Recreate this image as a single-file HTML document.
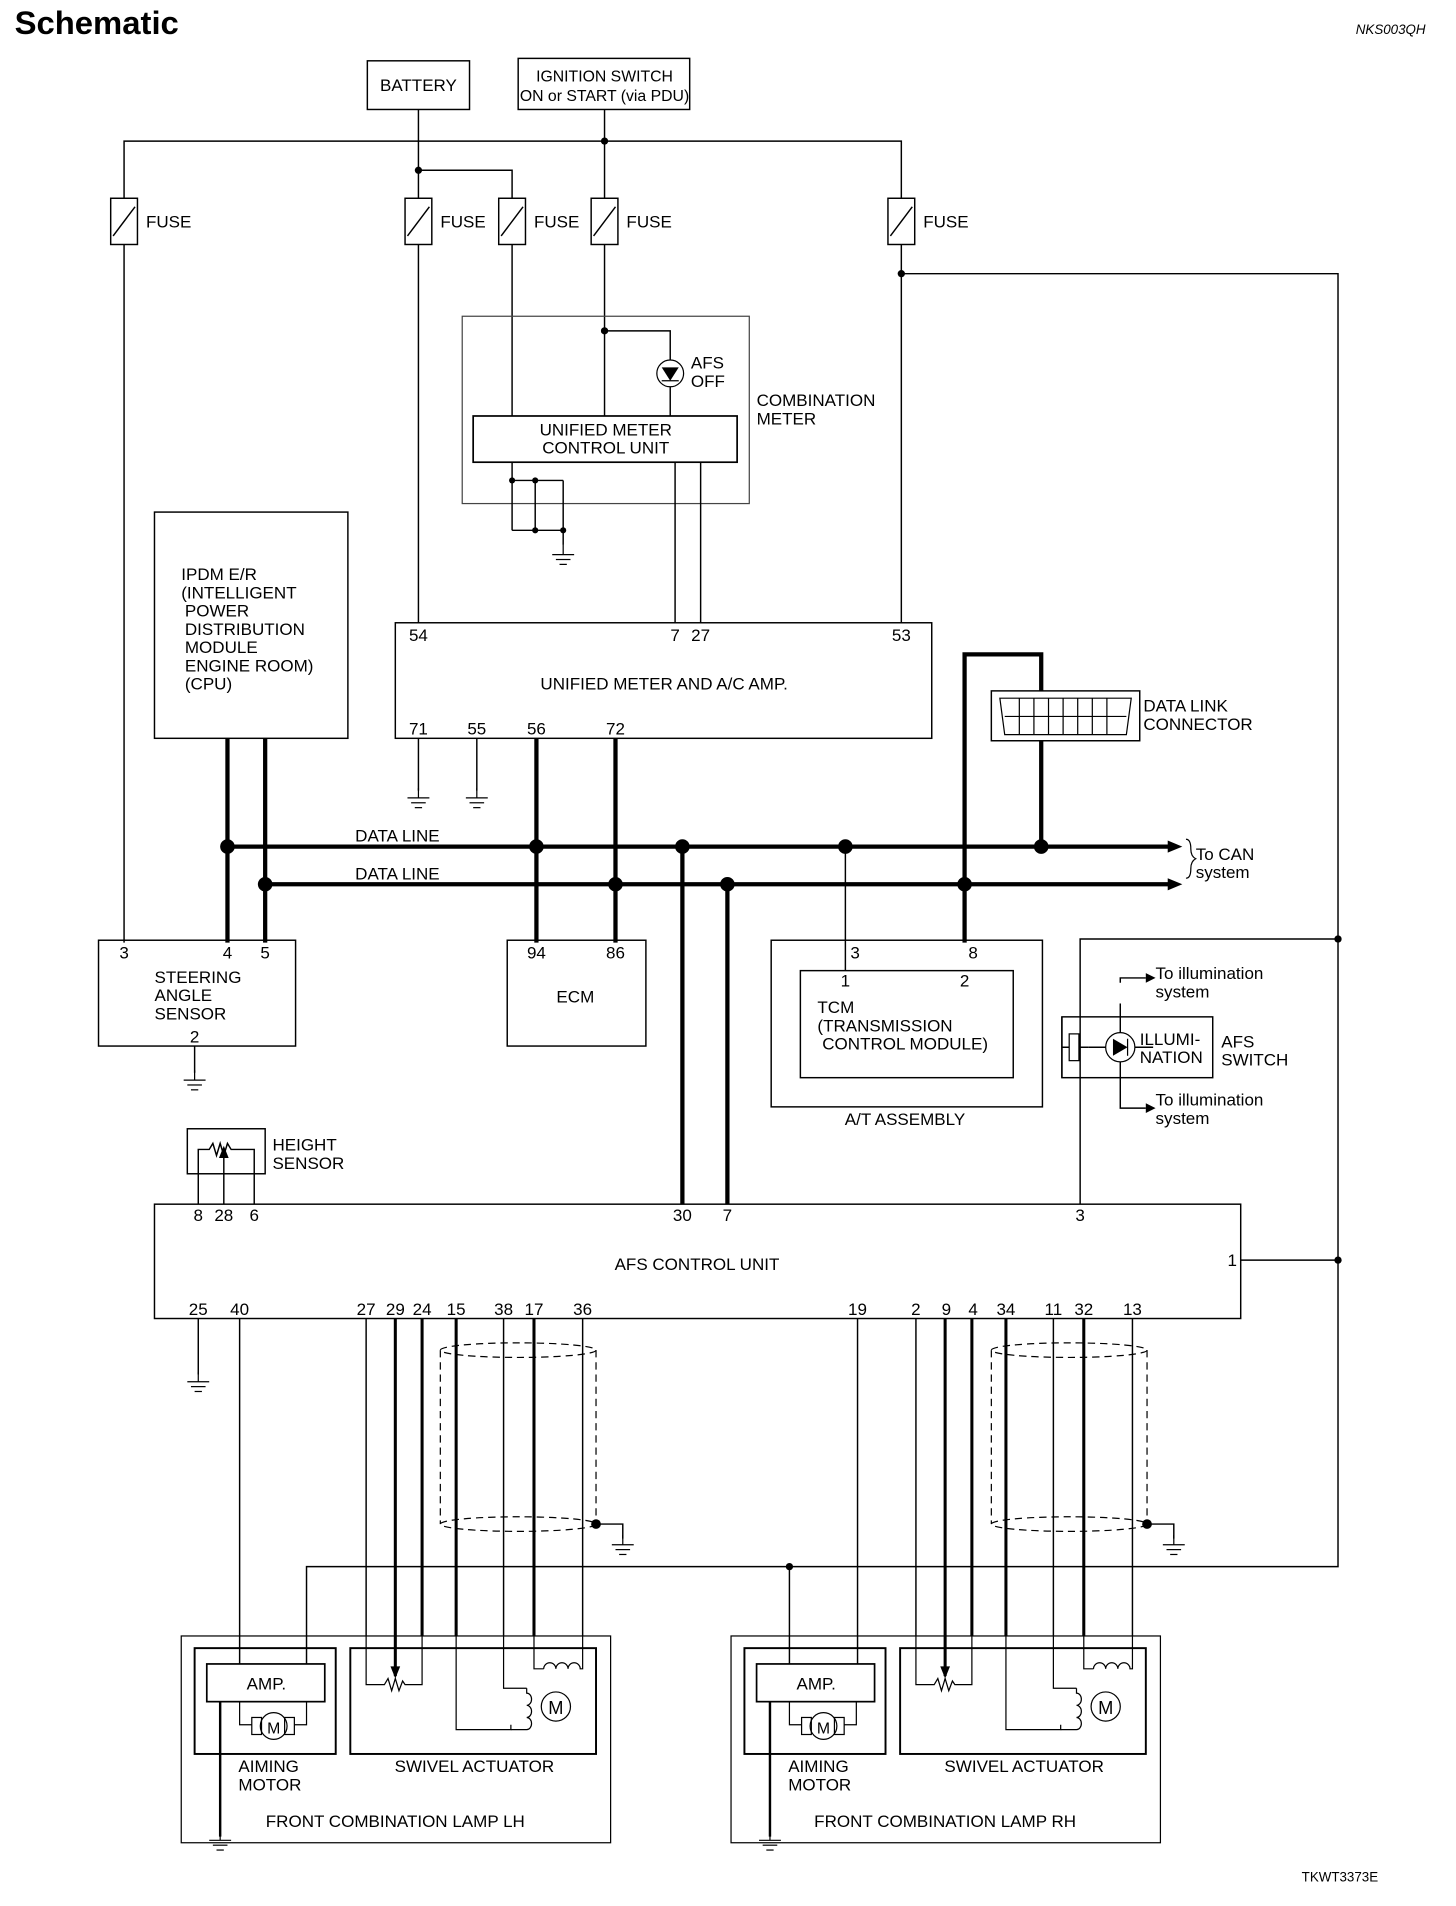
<!DOCTYPE html>
<html><head><meta charset="utf-8"><style>
html,body{margin:0;padding:0;background:#fff}
svg{display:block}
text{font-family:"Liberation Sans",sans-serif;fill:#000}
</style></head><body>
<svg width="1456" height="1906" viewBox="0 0 1197 1567" preserveAspectRatio="none" xmlns="http://www.w3.org/2000/svg" font-size="14">
<defs>
<g id="fuse"><rect x="-11" y="-19" width="22" height="38" fill="#fff" stroke="#000" stroke-width="1.2"/><line x1="-9" y1="12" x2="9" y2="-12" stroke="#000" stroke-width="1.2"/></g>
<g id="gnd"><line x1="0" y1="0" x2="0" y2="8" stroke="#000"/><line x1="-9" y1="8" x2="9" y2="8" stroke="#000"/><line x1="-6" y1="12" x2="6" y2="12" stroke="#000"/><line x1="-3" y1="16" x2="3" y2="16" stroke="#000"/></g>
<g id="lampbody" fill="none" stroke="#000">
<rect x="149" y="1345" width="353" height="170" stroke-width="1"/>
<rect x="160" y="1355" width="116" height="87" stroke-width="1.6"/>
<rect x="170" y="1368" width="97" height="31" stroke-width="1.4"/>
<rect x="288" y="1355" width="202" height="87" stroke-width="1.6"/>
<polyline points="197,1399 197,1418 207,1418"/><polyline points="252,1399 252,1418 242,1418"/>
<rect x="207" y="1412" width="8" height="14"/><rect x="234" y="1412" width="8" height="14"/>
<circle cx="225" cy="1419" r="11"/>
<polyline points="301,1345 301,1385 316,1385 319,1380 322,1390 325,1380 328,1390 331,1382 333,1385 347,1385 347,1345"/>
<polyline points="375,1345 375,1422 420,1422 420,1418"/>
<polyline points="414,1345 414,1388 433,1388"/>
<path d="M433,1388 v4 a4,5 0 0 1 0,10 a4,5 0 0 1 0,10 a4,5 0 0 1 0,10 h-13"/>
<polyline points="439,1345 439,1372 447,1372"/>
<path d="M447,1372 a5,5 0 0 1 10,0 a5,5 0 0 1 10,0 a5,5 0 0 1 10,0 h2 v-27"/>
<circle cx="457" cy="1403" r="12"/>
</g>
<g id="lamptext">
<text x="219" y="1389" text-anchor="middle">AMP.</text>
<text x="225" y="1425" text-anchor="middle" font-size="13">M</text>
<text x="457" y="1409" text-anchor="middle" font-size="15">M</text>
<text x="196" y="1457">AIMING</text><text x="196" y="1472">MOTOR</text>
<text x="390" y="1457" text-anchor="middle">SWIVEL ACTUATOR</text>
</g>
</defs>

<text x="12" y="28" font-size="27" font-weight="bold">Schematic</text>
<text x="1172" y="28" font-size="11" font-style="italic" text-anchor="end">NKS003QH</text>
<text x="1133" y="1547" font-size="11" text-anchor="end">TKWT3373E</text>

<g fill="none" stroke="#000" stroke-width="1.2">
<rect x="302" y="50" width="84" height="40"/>
<rect x="426" y="48" width="141" height="42"/>
<polyline points="102,201 102,116 741,116 741,163"/>
<line x1="102" y1="201" x2="102" y2="775"/>
<line x1="344" y1="90" x2="344" y2="163"/>
<line x1="344" y1="201" x2="344" y2="512"/>
<polyline points="344,140 421,140 421,163"/>
<line x1="421" y1="201" x2="421" y2="342"/>
<line x1="497" y1="90" x2="497" y2="163"/>
<line x1="497" y1="201" x2="497" y2="342"/>
<polyline points="497,272 551,272 551,342"/>
<line x1="741" y1="201" x2="741" y2="512"/>
<polyline points="741,225 1100,225 1100,1288 252,1288 252,1368"/>
<rect x="380" y="260" width="236" height="154" stroke="#444" stroke-width="1"/>
<rect x="389" y="342" width="217" height="38" stroke-width="1.4"/>
<line x1="421" y1="380" x2="421" y2="436"/><line x1="440" y1="395" x2="440" y2="436"/><line x1="463" y1="395" x2="463" y2="448"/>
<line x1="421" y1="395" x2="463" y2="395"/><line x1="421" y1="436" x2="463" y2="436"/>
<line x1="555" y1="380" x2="555" y2="512"/><line x1="576" y1="380" x2="576" y2="512"/>
<rect x="325" y="512" width="441" height="95"/>
<line x1="344" y1="607" x2="344" y2="650"/><line x1="392" y1="607" x2="392" y2="650"/>
<rect x="127" y="421" width="159" height="186"/>
<rect x="81" y="773" width="162" height="87"/>
<line x1="160" y1="860" x2="160" y2="882"/>
<rect x="417" y="773" width="114" height="87"/>
<rect x="634" y="773" width="223" height="137"/>
<rect x="658" y="798" width="175" height="88"/>
<line x1="695" y1="696" x2="695" y2="798"/>
<polyline points="1100,772 888,772 888,990"/>
<rect x="873" y="836" width="124" height="50"/>
<line x1="873" y1="836" x2="873" y2="886"/>
<line x1="873" y1="861" x2="895" y2="861"/>
<line x1="895" y1="861" x2="948" y2="861"/>
<line x1="921" y1="825" x2="921" y2="849"/><line x1="921" y1="873" x2="921" y2="897"/>
<polyline points="921,808 921,804 942,804"/><polyline points="921,897 921,911 942,911"/>
<rect x="154" y="928" width="64" height="37"/>
<polyline points="163,990 163,945 172,945 175,940 178,950 181,940 184,950 187,940 190,945 209,945 209,990"/>
<line x1="184" y1="990" x2="184" y2="948"/>
<rect x="127" y="990" width="893" height="94"/>
<line x1="1020" y1="1036" x2="1100" y2="1036"/>
<line x1="163" y1="1084" x2="163" y2="1130"/>
<line x1="197" y1="1084" x2="197" y2="1368"/>
<line x1="705" y1="1084" x2="705" y2="1368"/>
<line x1="649" y1="1288" x2="649" y2="1368"/>
<line x1="301" y1="1084" x2="301" y2="1345"/><line x1="347" y1="1084" x2="347" y2="1345" stroke-width="2.5"/>
<line x1="375" y1="1084" x2="375" y2="1345" stroke-width="2.5"/><line x1="414" y1="1084" x2="414" y2="1345"/>
<line x1="439" y1="1084" x2="439" y2="1345" stroke-width="2.5"/><line x1="479" y1="1084" x2="479" y2="1345"/>
<line x1="753" y1="1084" x2="753" y2="1345"/><line x1="799" y1="1084" x2="799" y2="1345" stroke-width="2.5"/>
<line x1="827" y1="1084" x2="827" y2="1345" stroke-width="2.5"/><line x1="866" y1="1084" x2="866" y2="1345"/>
<line x1="891" y1="1084" x2="891" y2="1345" stroke-width="2.5"/><line x1="931" y1="1084" x2="931" y2="1345"/>
<line x1="325" y1="1084" x2="325" y2="1378" stroke-width="2.5"/><line x1="777" y1="1084" x2="777" y2="1378" stroke-width="2.5"/>
<line x1="181" y1="1399" x2="181" y2="1510" stroke-width="2"/><line x1="633" y1="1399" x2="633" y2="1510" stroke-width="2"/>
<polyline points="490,1253 512,1253 512,1265"/><polyline points="943,1253 965,1253 965,1265"/>
</g>
<g fill="none" stroke="#000" stroke-width="1" stroke-dasharray="6,4">
<ellipse cx="426" cy="1110" rx="64" ry="6"/><ellipse cx="426" cy="1253" rx="64" ry="6"/>
<line x1="362" y1="1110" x2="362" y2="1253"/><line x1="490" y1="1110" x2="490" y2="1253"/>
<ellipse cx="879" cy="1110" rx="64" ry="6"/><ellipse cx="879" cy="1253" rx="64" ry="6"/>
<line x1="815" y1="1110" x2="815" y2="1253"/><line x1="943" y1="1110" x2="943" y2="1253"/>
</g>
<g fill="none" stroke="#000" stroke-width="3.5">
<line x1="187" y1="607" x2="187" y2="775"/><line x1="218" y1="607" x2="218" y2="775"/>
<line x1="441" y1="607" x2="441" y2="775"/><line x1="506" y1="607" x2="506" y2="775"/>
<line x1="187" y1="696" x2="962" y2="696"/><line x1="218" y1="727" x2="962" y2="727"/>
<polyline points="793,775 793,538 856,538 856,696"/>
<line x1="561" y1="696" x2="561" y2="990"/><line x1="598" y1="727" x2="598" y2="990"/>
</g>
<polygon points="972,696 960,691 960,701" fill="#000"/><polygon points="972,727 960,722 960,732" fill="#000"/>
<path d="M975,690 q4,0 4,8 q0,6 4,8 q-4,2 -4,8 q0,8 -4,8" fill="none" stroke="#000"/>
<rect x="815" y="568" width="122" height="41" fill="#fff" stroke="#000" stroke-width="1.2"/>
<g fill="none" stroke="#000" stroke-width="1"><path d="M822,574 h108 l-4,30 h-100 z"/>
<line x1="826" y1="589" x2="926" y2="589"/>
<line x1="838" y1="574" x2="838" y2="604"/><line x1="850" y1="574" x2="850" y2="604"/><line x1="862" y1="574" x2="862" y2="604"/><line x1="874" y1="574" x2="874" y2="604"/><line x1="886" y1="574" x2="886" y2="604"/><line x1="898" y1="574" x2="898" y2="604"/><line x1="910" y1="574" x2="910" y2="604"/></g>

<use href="#fuse" x="102" y="182"/><use href="#fuse" x="344" y="182"/><use href="#fuse" x="421" y="182"/><use href="#fuse" x="497" y="182"/><use href="#fuse" x="741" y="182"/>
<use href="#gnd" x="463" y="448"/><use href="#gnd" x="344" y="648"/><use href="#gnd" x="392" y="648"/><use href="#gnd" x="160" y="880"/><use href="#gnd" x="163" y="1128"/><use href="#gnd" x="512" y="1262"/><use href="#gnd" x="965" y="1262"/><use href="#gnd" x="181" y="1505"/><use href="#gnd" x="633" y="1505"/>

<circle cx="551" cy="307" r="11" fill="#fff" stroke="#000"/><polygon points="544,302 558,302 551,313" fill="#000"/><line x1="544" y1="313" x2="558" y2="313" stroke="#000"/>
<circle cx="921" cy="861" r="12" fill="#fff" stroke="#000"/><polygon points="915,854 915,868 927,861" fill="#000"/><line x1="927" y1="854" x2="927" y2="868" stroke="#000"/>
<rect x="879" y="850" width="8" height="22" fill="#fff" stroke="#000"/>
<polygon points="950,804 942,800 942,808" fill="#000"/><polygon points="950,911 942,907 942,915" fill="#000"/>
<polygon points="325,1380 321,1370 329,1370" fill="#000"/><polygon points="777,1380 773,1370 781,1370" fill="#000"/>
<polygon points="184,942 180,952 188,952" fill="#000"/>

<g fill="#000">
<circle cx="344" cy="140" r="3"/><circle cx="497" cy="116" r="3"/><circle cx="497" cy="272" r="3"/><circle cx="741" cy="225" r="3"/>
<circle cx="421" cy="395" r="2.5"/><circle cx="440" cy="395" r="2.5"/><circle cx="440" cy="436" r="2.5"/><circle cx="463" cy="436" r="2.5"/>
<circle cx="187" cy="696" r="6"/><circle cx="441" cy="696" r="6"/><circle cx="561" cy="696" r="6"/><circle cx="695" cy="696" r="6"/><circle cx="856" cy="696" r="6"/>
<circle cx="218" cy="727" r="6"/><circle cx="506" cy="727" r="6"/><circle cx="598" cy="727" r="6"/><circle cx="793" cy="727" r="6"/>
<circle cx="1100" cy="772" r="3"/><circle cx="1100" cy="1036" r="3"/><circle cx="649" cy="1288" r="3"/>
<circle cx="490" cy="1253" r="4"/><circle cx="943" cy="1253" r="4"/>
</g>

<use href="#lampbody"/><use href="#lamptext"/>
<g transform="translate(452,0)"><use href="#lampbody"/><use href="#lamptext"/></g>
<text x="325" y="1502" text-anchor="middle">FRONT COMBINATION LAMP LH</text>
<text x="777" y="1502" text-anchor="middle">FRONT COMBINATION LAMP RH</text>

<text x="344" y="75" text-anchor="middle">BATTERY</text>
<text x="497" y="67" text-anchor="middle" font-size="13">IGNITION SWITCH</text>
<text x="497" y="83" text-anchor="middle" font-size="13">ON or START (via PDU)</text>
<text x="120" y="187">FUSE</text><text x="362" y="187">FUSE</text><text x="439" y="187">FUSE</text><text x="515" y="187">FUSE</text><text x="759" y="187">FUSE</text>
<text x="568" y="303">AFS</text><text x="568" y="318">OFF</text>
<text x="622" y="334">COMBINATION</text><text x="622" y="349">METER</text>
<text x="498" y="358" text-anchor="middle">UNIFIED METER</text><text x="498" y="373" text-anchor="middle">CONTROL UNIT</text>
<text x="149" y="477">IPDM E/R</text><text x="149" y="492">(INTELLIGENT</text><text x="152" y="507">POWER</text><text x="152" y="522">DISTRIBUTION</text><text x="152" y="537">MODULE</text><text x="152" y="552">ENGINE ROOM)</text><text x="152" y="567">(CPU)</text>
<text x="344" y="527" text-anchor="middle">54</text><text x="555" y="527" text-anchor="middle">7</text><text x="576" y="527" text-anchor="middle">27</text><text x="741" y="527" text-anchor="middle">53</text>
<text x="546" y="567" text-anchor="middle">UNIFIED METER AND A/C AMP.</text>
<text x="344" y="604" text-anchor="middle">71</text><text x="392" y="604" text-anchor="middle">55</text><text x="441" y="604" text-anchor="middle">56</text><text x="506" y="604" text-anchor="middle">72</text>
<text x="940" y="585">DATA LINK</text><text x="940" y="600">CONNECTOR</text>
<text x="292" y="692">DATA LINE</text><text x="292" y="723">DATA LINE</text>
<text x="983" y="707">To CAN</text><text x="983" y="722">system</text>
<text x="102" y="788" text-anchor="middle">3</text><text x="187" y="788" text-anchor="middle">4</text><text x="218" y="788" text-anchor="middle">5</text>
<text x="127" y="808">STEERING</text><text x="127" y="823">ANGLE</text><text x="127" y="838">SENSOR</text>
<text x="160" y="857" text-anchor="middle">2</text>
<text x="441" y="788" text-anchor="middle">94</text><text x="506" y="788" text-anchor="middle">86</text>
<text x="473" y="824" text-anchor="middle">ECM</text>
<text x="703" y="788" text-anchor="middle">3</text><text x="800" y="788" text-anchor="middle">8</text>
<text x="695" y="811" text-anchor="middle">1</text><text x="793" y="811" text-anchor="middle">2</text>
<text x="672" y="833">TCM</text><text x="672" y="848">(TRANSMISSION</text><text x="676" y="863">CONTROL MODULE)</text>
<text x="744" y="925" text-anchor="middle">A/T ASSEMBLY</text>
<text x="950" y="805">To illumination</text><text x="950" y="820">system</text>
<text x="950" y="909">To illumination</text><text x="950" y="924">system</text>
<text x="937" y="859">ILLUMI-</text><text x="937" y="874">NATION</text>
<text x="1004" y="861">AFS</text><text x="1004" y="876">SWITCH</text>
<text x="224" y="946">HEIGHT</text><text x="224" y="961">SENSOR</text>
<text x="163" y="1004" text-anchor="middle">8</text><text x="184" y="1004" text-anchor="middle">28</text><text x="209" y="1004" text-anchor="middle">6</text>
<text x="561" y="1004" text-anchor="middle">30</text><text x="598" y="1004" text-anchor="middle">7</text><text x="888" y="1004" text-anchor="middle">3</text>
<text x="573" y="1044" text-anchor="middle">AFS CONTROL UNIT</text>
<text x="1013" y="1041" text-anchor="middle">1</text>
<g text-anchor="middle">
<text x="163" y="1081">25</text><text x="197" y="1081">40</text><text x="301" y="1081">27</text><text x="325" y="1081">29</text><text x="347" y="1081">24</text><text x="375" y="1081">15</text><text x="414" y="1081">38</text><text x="439" y="1081">17</text><text x="479" y="1081">36</text>
<text x="705" y="1081">19</text><text x="753" y="1081">2</text><text x="778" y="1081">9</text><text x="800" y="1081">4</text><text x="827" y="1081">34</text><text x="866" y="1081">11</text><text x="891" y="1081">32</text><text x="931" y="1081">13</text>
</g>
</svg>
</body></html>
